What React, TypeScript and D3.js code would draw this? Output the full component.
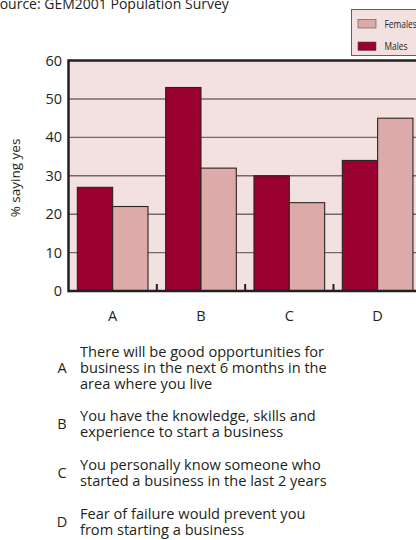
import React from "react";
import * as d3 from "d3";

const categories = ["A", "B", "C", "D"];
const males = [27, 53, 30, 34];
const females = [22, 32, 23, 45];
const yTicks = [0, 10, 20, 30, 40, 50, 60];
const seriesNames = ["Females", "Males"];
const descriptions = [
  ["There will be good opportunities for", "business in the next 6 months in the", "area where you live"],
  ["You have the knowledge, skills and", "experience to start a business"],
  ["You personally know someone who", "started a business in the last 2 years"],
  ["Fear of failure would prevent you", "from starting a business"],
];
const sourceText = "Source: GEM2001 Population Survey";
const yTitle = "% saying yes";

const MALE = "#990030";
const FEMALE = "#dcaaa8";
const BG = "#f3e1e0";
const DARK = "#231f20";
const FONT = "'Open Sans', Lato, sans-serif";

export default function App() {
  const W = 416, H = 540;
  const x = d3.scaleBand<string>().domain(categories).range([68.5, 421.8]).paddingInner(0.2).paddingOuter(0.1);
  const y = d3.scaleLinear().domain([0, 60]).range([291, 60.6]);
  const bw = x.bandwidth() / 2;
  const step = x.step();
  const left = 68.5, right = 421.8;
  const boundaries = categories.slice(1).map((c) => (x(c) as number) - step * 0.1);

  const blockStarts = [351.7, 416, 465, 514];
  const lineH = 16.3;

  return (
    <svg width={W} height={H} style={{ position: "absolute", left: 0, top: 0, fontFamily: FONT }}>
      <text x={-8} y={9} fontSize={14} fill={DARK}>{sourceText}</text>

      {/* legend */}
      <rect x={351.5} y={9.5} width={70} height={46} fill={BG} stroke="#6b5b5c" strokeWidth={1} />
      {seriesNames.map((s, i) => (
        <g key={s}>
          <rect x={358} y={i === 0 ? 19.5 : 42} width={18} height={8.5} fill={i === 0 ? FEMALE : MALE} stroke="#5a4a4b" strokeWidth={0.6} />
          <text transform={`translate(384.5,${i === 0 ? 27.5 : 50}) scale(0.8,1)`} fontSize={10.5} fill={DARK}>{s}</text>
        </g>
      ))}

      {/* plot background */}
      <rect x={left} y={y(60)} width={right - left} height={y(0) - y(60)} fill={BG} />
      {yTicks.filter((t) => t > 0 && t < 60).map((t) => (
        <line key={t} x1={left} x2={right} y1={y(t)} y2={y(t)} stroke="#74686a" strokeWidth={1.4} />
      ))}

      {categories.map((c, i) => (
        <g key={c}>
          <rect x={x(c) as number} y={y(males[i])} width={bw} height={y(0) - y(males[i])} fill={MALE} stroke="#2a2325" strokeWidth={1.1} />
          <rect x={(x(c) as number) + bw} y={y(females[i])} width={bw} height={y(0) - y(females[i])} fill={FEMALE} stroke="#2a2325" strokeWidth={1.1} />
        </g>
      ))}

      {boundaries.map((b, i) => (
        <line key={i} x1={b} x2={b} y1={y(0) - 7} y2={y(0)} stroke={DARK} strokeWidth={2} />
      ))}

      {/* frame */}
      <line x1={left} x2={right} y1={y(60)} y2={y(60)} stroke={DARK} strokeWidth={2.5} />
      <line x1={left} x2={right} y1={y(0)} y2={y(0)} stroke={DARK} strokeWidth={2.5} />
      <line x1={left} x2={left} y1={y(60) - 1.25} y2={y(0) + 1.25} stroke={DARK} strokeWidth={2.5} />

      {yTicks.map((t) => (
        <text key={t} x={62} y={y(t)} dy="0.35em" textAnchor="end" fontSize={14.5} fill={DARK}>{t}</text>
      ))}
      <text transform={`translate(20,178) rotate(-90)`} textAnchor="middle" fontSize={13.5} fill={DARK}>{yTitle}</text>

      {categories.map((c) => (
        <text key={c} x={(x(c) as number) + bw} y={316} dy="0.35em" textAnchor="middle" fontSize={14.5} fill={DARK}>{c}</text>
      ))}

      {descriptions.map((lines, i) => {
        const y0 = blockStarts[i];
        const mid = y0 + ((lines.length - 1) * lineH) / 2;
        return (
          <g key={i}>
            <text x={62} y={mid} dy="0.35em" textAnchor="middle" fontSize={14.5} fill={DARK}>{categories[i]}</text>
            {lines.map((l, j) => (
              <text key={j} x={80} y={y0 + j * lineH} dy="0.35em" fontSize={14.6} fill={DARK}>{l}</text>
            ))}
          </g>
        );
      })}
    </svg>
  );
}
